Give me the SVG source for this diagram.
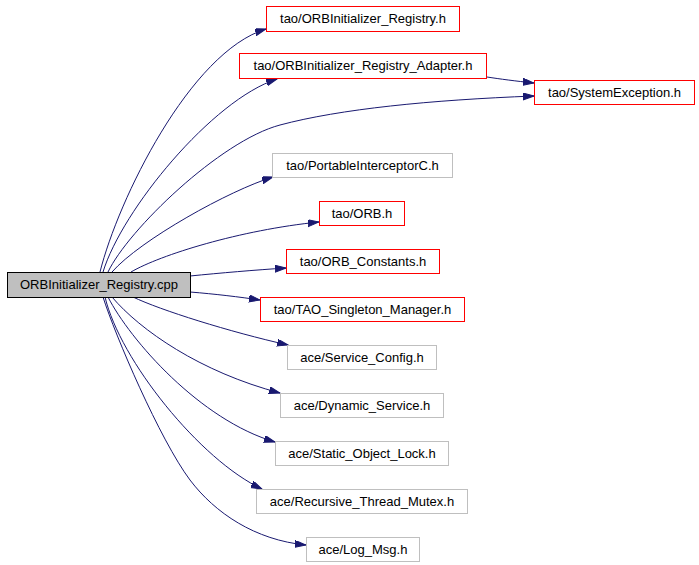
<svg xmlns="http://www.w3.org/2000/svg" width="699" height="565" viewBox="0 0 699 565">
<style>
.n rect{fill:#ffffff;stroke-width:1}
.r rect{stroke:#ff0000}
.g rect{stroke:#bfbfbf}
.m rect{fill:#bfbfbf;stroke:#000000}
text{font-family:"Liberation Sans",Arial,sans-serif;font-size:13px;fill:#000000;text-anchor:middle}
.e path{fill:none;stroke:#191970;stroke-width:1;marker-end:url(#a)}
</style>
<defs>
<marker id="a" markerUnits="userSpaceOnUse" markerWidth="12" markerHeight="8" refX="11" refY="3.5" orient="auto">
<path d="M0,0L11,3.5L0,7z" fill="#191970" stroke="#191970" stroke-width="1"/>
</marker>
</defs>
<rect width="699" height="565" fill="#ffffff"/>
<g id="edges" class="e">
<path d="M100,272C118,200 190,52 266,29"/>
<path d="M103,272C122,210 212,100 277,79"/>
<path d="M108,272C128,230 220,141 280,125C340,109 430,100 534,96"/>
<path d="M487,77C500,79 515,81 534,83"/>
<path d="M112,272C140,240 230,190 273,177"/>
<path d="M131,272C160,255 240,230 319,222"/>
<path d="M190,276C220,273 255,270 286,268"/>
<path d="M190,292C215,294 240,297 260,300"/>
<path d="M133,297C160,310 230,332 288,345"/>
<path d="M112,297C140,330 200,372 280,393"/>
<path d="M108,297C130,340 200,420 275,442"/>
<path d="M105,297C120,360 200,460 262,489"/>
<path d="M103,297C115,335 160,440 190,480C215,513 255,540 306,545"/>
</g>
<g id="main" class="n m"><rect x="7.5" y="272.5" width="183" height="25"/><text x="99" y="289">ORBInitializer_Registry.cpp</text></g>
<g id="n1" class="n r"><rect x="266.5" y="6.5" width="193" height="25"/><text x="363" y="23">tao/ORBInitializer_Registry.h</text></g>
<g id="n2" class="n r"><rect x="239.5" y="53.5" width="247" height="25"/><text x="363" y="70">tao/ORBInitializer_Registry_Adapter.h</text></g>
<g id="n3" class="n r"><rect x="534.5" y="80.5" width="160" height="24"/><text x="614.5" y="97">tao/SystemException.h</text></g>
<g id="n4" class="n g"><rect x="272.5" y="153.5" width="180" height="24"/><text x="362.5" y="170">tao/PortableInterceptorC.h</text></g>
<g id="n5" class="n r"><rect x="319.5" y="201.5" width="85" height="24"/><text x="362" y="218">tao/ORB.h</text></g>
<g id="n6" class="n r"><rect x="286.5" y="249.5" width="153" height="24"/><text x="363" y="266">tao/ORB_Constants.h</text></g>
<g id="n7" class="n r"><rect x="260.5" y="297.5" width="204" height="24"/><text x="362.5" y="314">tao/TAO_Singleton_Manager.h</text></g>
<g id="n8" class="n g"><rect x="287.5" y="345.5" width="149" height="24"/><text x="362" y="362">ace/Service_Config.h</text></g>
<g id="n9" class="n g"><rect x="280.5" y="393.5" width="163" height="24"/><text x="362" y="410">ace/Dynamic_Service.h</text></g>
<g id="n10" class="n g"><rect x="275.5" y="441.5" width="173" height="24"/><text x="362" y="458">ace/Static_Object_Lock.h</text></g>
<g id="n11" class="n g"><rect x="256.5" y="489.5" width="211" height="24"/><text x="362" y="506">ace/Recursive_Thread_Mutex.h</text></g>
<g id="n12" class="n g"><rect x="306.5" y="537.5" width="113" height="24"/><text x="363" y="554">ace/Log_Msg.h</text></g>
</svg>
